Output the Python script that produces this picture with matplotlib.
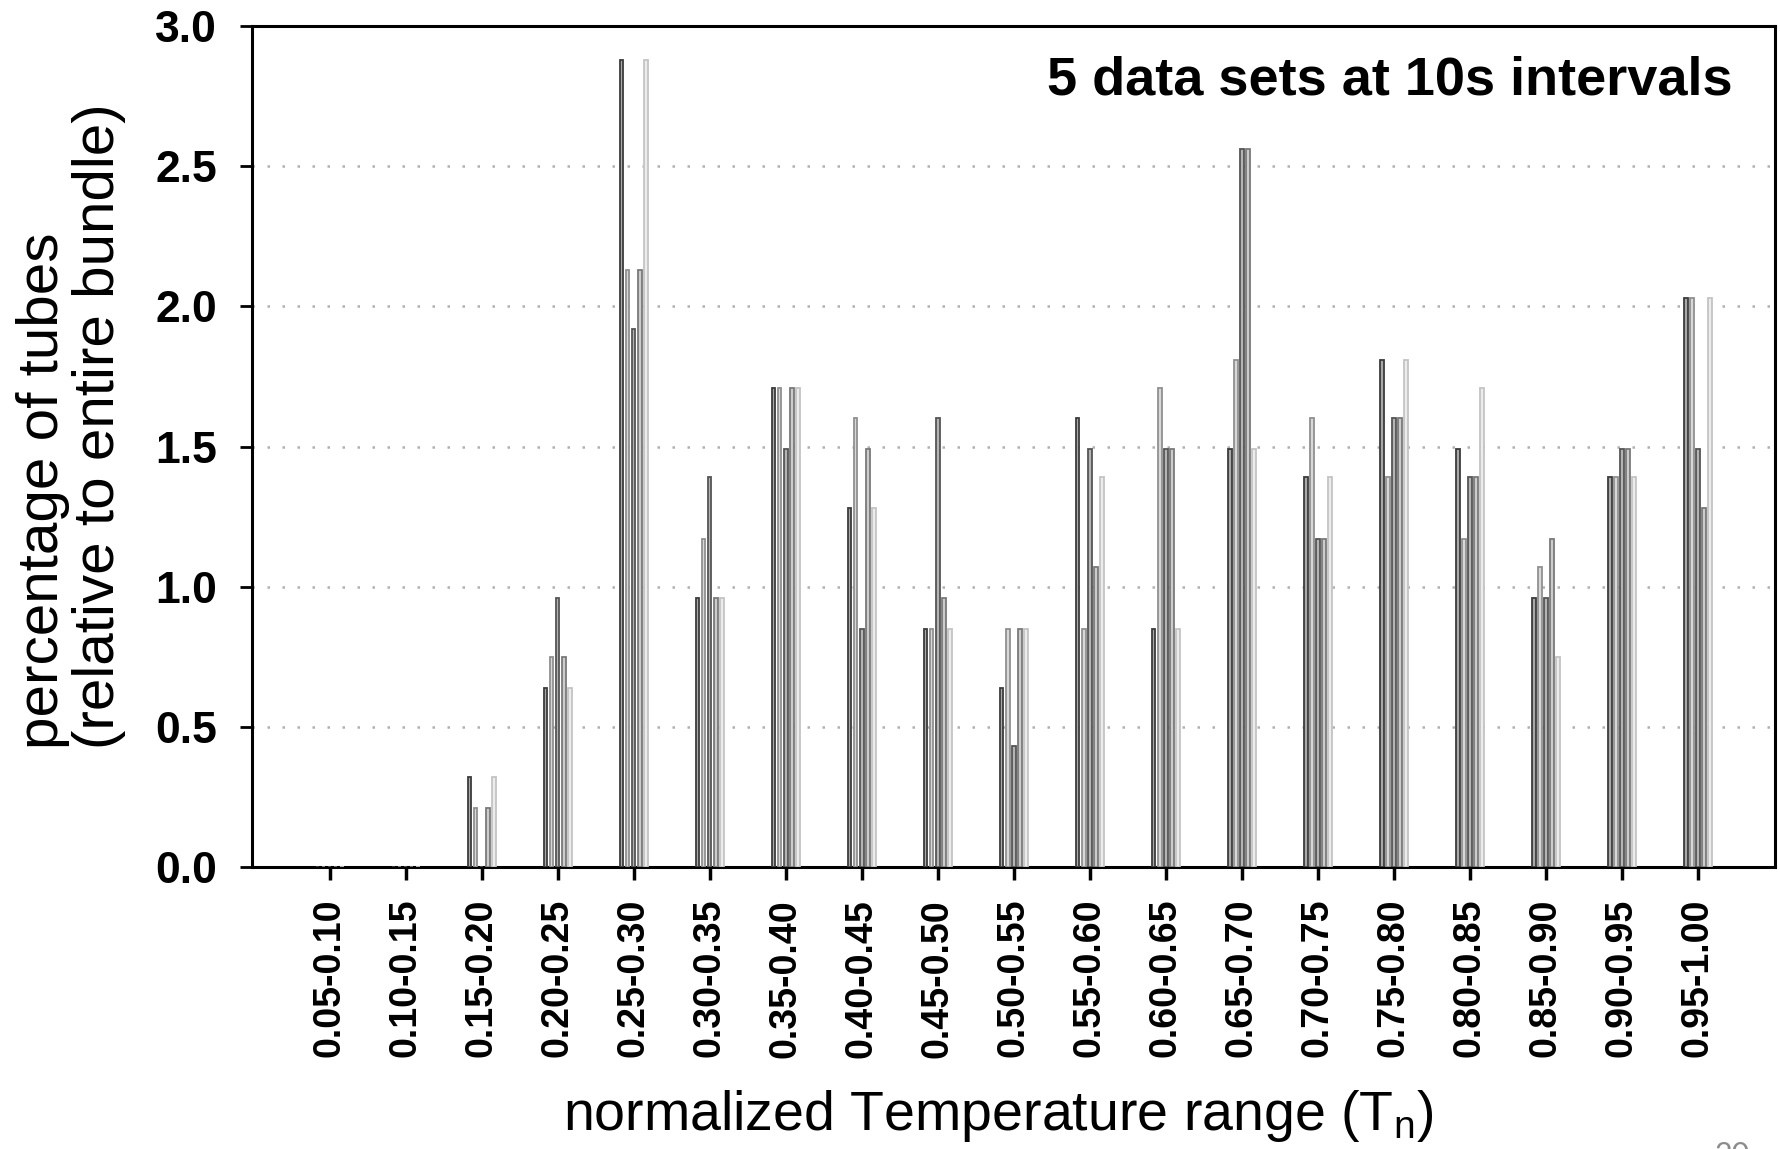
import numpy as np
from matplotlib import pyplot as plt


ranges = ["0.05-0.10", "0.10-0.15", "0.15-0.20", "0.20-0.25", "0.25-0.30",
          "0.30-0.35", "0.35-0.40", "0.40-0.45", "0.45-0.50", "0.50-0.55",
          "0.55-0.60", "0.60-0.65", "0.65-0.70", "0.70-0.75", "0.75-0.80",
          "0.80-0.85", "0.85-0.90", "0.90-0.95", "0.95-1.00"]

# percentage of tubes in each range, one list per data set (10s apart)
set_1 = [0, 0, 0.32, 0.64, 2.88, 0.96, 1.71, 1.28, 0.85, 0.64,
         1.60, 0.85, 1.49, 1.39, 1.81, 1.49, 0.96, 1.39, 2.03]
set_2 = [0, 0, 0.21, 0.75, 2.13, 1.17, 1.71, 1.60, 0.85, 0.85,
         0.85, 1.71, 1.81, 1.60, 1.39, 1.17, 1.07, 1.39, 2.03]
set_3 = [0, 0, 0, 0.96, 1.92, 1.39, 1.49, 0.85, 1.60, 0.43,
         1.49, 1.49, 2.56, 1.17, 1.60, 1.39, 0.96, 1.49, 1.49]
set_4 = [0, 0, 0.21, 0.75, 2.13, 0.96, 1.71, 1.49, 0.96, 0.85,
         1.07, 1.49, 2.56, 1.17, 1.60, 1.39, 1.17, 1.49, 1.28]
set_5 = [0, 0, 0.32, 0.64, 2.88, 0.96, 1.71, 1.28, 0.85, 0.85,
         1.39, 0.85, 1.49, 1.39, 1.81, 1.71, 0.75, 1.39, 2.03]

y_ticks = [0.0, 0.5, 1.0, 1.5, 2.0, 2.5, 3.0]


def main():
    plt.rcParams['font.family'] = ['Liberation Sans', 'DejaVu Sans']
    plt.rcParams['mathtext.default'] = 'regular'

    fig = plt.figure(figsize=(17.81, 11.49), dpi=100)
    ax = fig.add_axes([0.1415, 0.2454, 0.855, 0.732])

    data_sets = [set_1, set_2, set_3, set_4, set_5]
    edges = ['#3c3c3c', '#909090', '#555555', '#7a7a7a', '#c4c4c4']
    faces = ['#a8a8a8', '#d8d8d8', '#b4b4b4', '#cccccc', '#ececec']
    x = np.arange(len(ranges))
    step = 0.08
    for i, vals in enumerate(data_sets):
        ax.bar(x + (i - 2) * step, vals, width=0.048, color=faces[i],
               edgecolor=edges[i], linewidth=1.3, zorder=3)

    ax.set_xlim(-1.02, 19.01)
    ax.set_ylim(0, 3.0)
    ax.set_yticks(y_ticks)
    ax.set_yticklabels(["%.1f" % v for v in y_ticks])
    ax.set_xticks(x)
    ax.set_xticklabels(ranges, rotation=90)

    for lbl in ax.get_yticklabels():
        lbl.set_fontweight('bold')
        lbl.set_fontsize(32)
    for lbl in ax.get_xticklabels():
        lbl.set_fontweight('bold')
        lbl.set_fontsize(27)

    ax.tick_params(axis='y', direction='out', length=9, width=2, pad=16)
    ax.tick_params(axis='x', direction='out', length=9, width=2.5, pad=14)

    for s in ax.spines.values():
        s.set_linewidth(2.2)
        s.set_color('black')

    for v in y_ticks[1:-1]:
        ax.axhline(v, color='#b0b0b0', linestyle=(0, (1, 5)), linewidth=1.8, zorder=1)

    ax.set_ylabel("percentage of tubes\n(relative to entire bundle)", fontsize=42,
                  linespacing=1.05, multialignment='left')
    ax.yaxis.set_label_coords(-0.083, 0.524)
    ax.set_xlabel("normalized Temperature range (T$_{n}$)", fontsize=40)
    ax.xaxis.set_label_coords(0.49, -0.263)

    ax.text(0.972, 0.919, "5 data sets at 10s intervals", transform=ax.transAxes,
            ha='right', va='baseline', fontsize=39, fontweight='bold')

    fig.text(0.9725, 1 - 1141 / 1149, "20", ha='center', va='top', fontsize=22,
             color='#8c8c8c', family=['Lato', 'DejaVu Sans'])

    fig.savefig("out.png", dpi=100)


if __name__ == "__main__":
    main()
